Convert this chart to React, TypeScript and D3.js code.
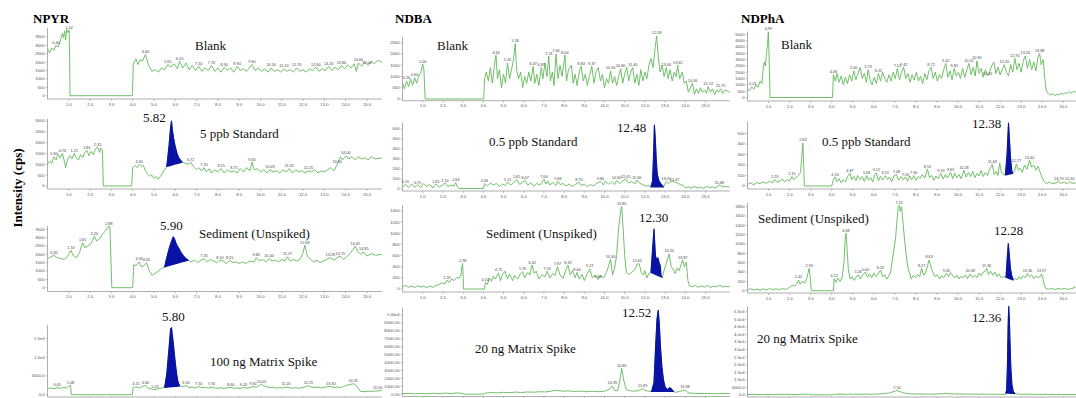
import React from "react";
import * as d3 from "d3";

type Pt = [number, number];

// ---------------- DATA ----------------
const compounds = ["NPYR", "NDBA", "NDPhA"];
const sampleNames = [
  ["Blank", "5 ppb Standard", "Sediment (Unspiked)", "100 ng Matrix Spike"],
  ["Blank", "0.5 ppb Standard", "Sediment (Unspiked)", "20 ng Matrix Spike"],
  ["Blank", "0.5 ppb Standard", "Sediment (Unspiked)", "20 ng Matrix Spike"],
];
const retentionLabels = [
  ["", "5.82", "5.90", "5.80"],
  ["", "12.48", "12.30", "12.52"],
  ["", "12.38", "12.28", "12.36"],
];
const yAxisTitle = "Intensity (cps)";
const xTickValues = [1, 2, 3, 4, 5, 6, 7, 8, 9, 10, 11, 12, 13, 14, 15];

// y ticks per panel [compound][row]
const yTickValues = [
  [
    [0, 500, 1000, 1500, 2000, 2500, 3000, 3500],
    [0, 500, 1000, 1500, 2000, 2500, 3000],
    [0, 500, 1000, 1500, 2000, 2500, 3000, 3500],
    [0, 5000, 10000, 15000],
  ],
  [
    [0, 500, 1000, 1500, 2000, 2500],
    [0, 100, 200, 300, 400, 500, 600],
    [0, 200, 400, 600, 800, 1000, 1200, 1400],
    [0, 1000, 2000, 3000, 4000, 5000, 6000, 7000, 8000, 9000, 10000],
  ],
  [
    [0, 500, 1000, 1500, 2000, 2500, 3000, 3500, 4000, 4500, 5000],
    [0, 100, 200, 300, 400, 500],
    [0, 200, 400, 600, 800, 1000, 1200, 1400, 1600, 1800],
    [0, 5000, 10000, 15000, 20000, 25000, 30000, 35000, 40000, 45000, 50000, 55000],
  ],
];
// decimals for scientific style ticks on the spike panels (-1 = plain integers)
const yTickDecimals = [
  [-1, -1, -1, 1],
  [-1, -1, -1, 2],
  [-1, -1, -1, 1],
];

// ---- NPYR traces (time min, intensity cps)
const npyrBlank: Pt[] = [[0,2800],[0.1,2550],[0.2,2850],[0.3,2700],[0.4,3000],[0.5,2900],[0.6,3250],[0.7,3700],[0.75,3450],[0.8,3850],[0.85,3300],[0.9,3950],[0.95,3750],[1.02,3900],[1.06,0],[3.98,0],[4.03,1900],[4.15,2200],[4.25,1850],[4.35,2150],[4.45,2050],[4.6,2450],[4.75,1800],[4.9,1450],[5.05,1550],[5.2,1400],[5.35,1650],[5.5,1550],[5.65,1850],[5.8,1700],[5.95,1900],[6.1,1600],[6.2,2050],[6.35,1650],[6.5,1950],[6.65,1550],[6.8,1800],[6.95,1500],[7.1,1750],[7.25,1450],[7.4,1650],[7.55,1500],[7.7,1800],[7.85,1450],[8.0,1650],[8.15,1400],[8.3,1700],[8.45,1500],[8.6,1650],[8.75,1400],[8.9,1750],[9.05,1500],[9.2,1600],[9.35,1450],[9.5,1700],[9.6,1850],[9.75,1500],[9.9,1650],[10.05,1450],[10.2,1600],[10.35,1400],[10.5,1650],[10.65,1450],[10.8,1550],[10.95,1400],[11.1,1600],[11.25,1450],[11.4,1550],[11.55,1400],[11.7,1650],[11.85,1450],[12.0,1550],[12.15,1400],[12.3,1600],[12.45,1500],[12.6,1700],[12.75,1450],[12.9,1600],[13.05,1500],[13.2,1750],[13.35,1500],[13.5,1700],[13.65,1550],[13.8,1800],[13.95,1600],[14.1,1850],[14.25,1650],[14.4,1900],[14.5,1450],[14.6,1950],[14.75,1750],[14.9,2000],[15.05,1800],[15.2,2050],[15.35,1900],[15.5,2100],[15.7,2000]];
const npyrStd: Pt[] = [[0,1000],[0.1,1150],[0.2,1050],[0.3,1350],[0.4,1200],[0.5,1450],[0.6,1300],[0.7,1500],[0.8,1100],[0.85,850],[0.95,1250],[1.05,1400],[1.15,1250],[1.25,1500],[1.35,1300],[1.45,1200],[1.55,1450],[1.65,1300],[1.75,1550],[1.85,1650],[1.95,1400],[2.05,1600],[2.15,1450],[2.25,1700],[2.35,1800],[2.45,1550],[2.5,1750],[2.58,1650],[2.62,0],[3.95,0],[4.0,850],[4.1,950],[4.2,850],[4.3,1000],[4.4,900],[4.5,950],[4.6,700],[4.7,550],[4.8,450],[4.9,500],[5.0,350],[5.1,450],[5.2,300],[5.3,450],[5.4,600],[5.5,750],[5.6,900],[5.7,1800],[5.78,2700],[5.82,3000],[5.86,2600],[5.92,2200],[6.0,1800],[6.08,1500],[6.16,1300],[6.24,1200],[6.32,1100],[6.45,1050],[6.6,1000],[6.72,1100],[6.85,900],[7.0,750],[7.1,850],[7.25,700],[7.35,850],[7.45,650],[7.6,800],[7.7,600],[7.85,750],[8.0,650],[8.15,800],[8.3,600],[8.45,750],[8.6,650],[8.75,700],[8.9,600],[9.05,800],[9.2,650],[9.35,850],[9.5,700],[9.6,1100],[9.7,750],[9.85,800],[10.0,650],[10.15,750],[10.3,600],[10.45,750],[10.6,650],[10.75,700],[10.9,600],[11.05,750],[11.2,650],[11.35,800],[11.5,600],[11.65,750],[11.8,650],[11.95,700],[12.1,600],[12.25,700],[12.4,650],[12.55,750],[12.7,600],[12.85,700],[13.0,650],[13.15,750],[13.3,850],[13.45,700],[13.6,1000],[13.75,1350],[13.85,1200],[14.0,1400],[14.15,1250],[14.3,1350],[14.45,1200],[14.6,1350],[14.75,1250],[14.9,1300],[15.05,1200],[15.2,1350],[15.4,1250],[15.7,1300]];
const npyrSed: Pt[] = [[0,1750],[0.15,1850],[0.3,1950],[0.45,1800],[0.6,1750],[0.8,1700],[0.95,1900],[1.1,2250],[1.2,1950],[1.35,1800],[1.5,2100],[1.65,2700],[1.75,2400],[1.9,2500],[2.05,2650],[2.2,3100],[2.3,2800],[2.45,2950],[2.6,3250],[2.75,3450],[2.88,3700],[2.93,3650],[3.02,0],[4.0,0],[4.05,1400],[4.15,1300],[4.3,1550],[4.42,1250],[4.55,1350],[4.65,1500],[4.75,1100],[4.9,750],[5.05,850],[5.2,1000],[5.35,1150],[5.5,1250],[5.6,1800],[5.7,2300],[5.8,2700],[5.9,3050],[5.97,2900],[6.05,2600],[6.15,2400],[6.25,2150],[6.35,1950],[6.45,1800],[6.6,1650],[6.75,1550],[6.9,1650],[7.05,1500],[7.2,1650],[7.35,1750],[7.5,1550],[7.65,1700],[7.8,1600],[7.95,1500],[8.1,1650],[8.25,1600],[8.4,1450],[8.55,1650],[8.7,1500],[8.85,1550],[9.0,1450],[9.15,1550],[9.3,1450],[9.5,1600],[9.7,1550],[9.8,1800],[9.95,1600],[10.1,1700],[10.25,1550],[10.4,1750],[10.55,1600],[10.7,1650],[10.85,1550],[11.0,1700],[11.15,1600],[11.27,1850],[11.4,1600],[11.55,1700],[11.7,1600],[11.85,1700],[12.0,2100],[12.08,2550],[12.2,1900],[12.35,1700],[12.5,1550],[12.65,1650],[12.8,1500],[12.95,1600],[13.1,1700],[13.28,1800],[13.45,1650],[13.6,1800],[13.75,1900],[13.9,1700],[14.05,1850],[14.2,2050],[14.35,2300],[14.45,2500],[14.55,2200],[14.7,2000],[14.85,2150],[15.0,1900],[15.2,2050],[15.4,1950],[15.7,2000]];
const npyrSpike: Pt[] = [[0,1650],[0.15,1800],[0.3,1600],[0.45,1850],[0.6,1700],[0.75,1950],[0.9,1800],[1.0,2300],[1.08,2450],[1.12,0],[3.98,0],[4.02,1900],[4.15,2100],[4.3,1800],[4.45,2200],[4.6,2450],[4.75,1700],[4.9,1500],[5.05,1350],[5.2,1600],[5.35,1750],[5.5,1950],[5.6,5500],[5.7,12000],[5.78,17500],[5.82,17800],[5.9,14000],[5.98,9500],[6.05,6000],[6.12,3500],[6.2,2300],[6.35,2100],[6.5,2400],[6.65,1900],[6.8,2050],[6.95,1800],[7.1,2200],[7.25,1850],[7.4,1950],[7.55,1750],[7.7,2050],[7.85,1800],[8.0,1700],[8.15,1850],[8.3,1650],[8.45,1900],[8.6,1950],[8.75,1700],[8.9,1800],[9.05,1600],[9.2,2000],[9.35,1750],[9.5,1900],[9.65,2200],[9.8,2000],[9.95,2500],[10.05,2800],[10.15,2400],[10.3,2100],[10.45,1900],[10.6,2000],[10.75,1750],[10.9,1900],[11.05,1800],[11.2,2050],[11.35,1900],[11.5,1750],[11.65,1850],[11.8,1700],[11.95,1900],[12.1,2100],[12.25,2400],[12.4,2000],[12.55,1900],[12.7,2050],[12.85,1800],[13.0,1950],[13.15,2100],[13.3,2200],[13.45,1950],[13.6,2050],[13.75,1900],[13.9,2200],[14.05,2500],[14.2,2700],[14.35,2900],[14.45,2700],[14.55,2000],[14.7,900],[14.9,800],[15.1,950],[15.3,900],[15.5,1000],[15.7,1100]];

// ---- NDBA traces
const ndbaBlank: Pt[] = [[0,700],[0.1,450],[0.2,800],[0.3,550],[0.4,900],[0.5,600],[0.6,950],[0.7,700],[0.8,1000],[0.9,1150],[1.0,1550],[1.06,1300],[1.12,0],[4.02,0],[4.06,900],[4.15,1200],[4.25,800],[4.35,1400],[4.45,700],[4.55,1500],[4.63,1950],[4.7,900],[4.8,1300],[4.9,500],[5.0,1100],[5.1,700],[5.2,1600],[5.3,900],[5.42,1400],[5.5,1800],[5.58,2450],[5.65,1300],[5.75,900],[5.85,1200],[5.95,500],[6.05,1000],[6.15,700],[6.25,1200],[6.35,800],[6.47,1450],[6.55,700],[6.65,1100],[6.75,600],[6.87,1400],[6.95,900],[7.05,1600],[7.15,1000],[7.24,1900],[7.32,800],[7.42,1200],[7.5,600],[7.6,2000],[7.7,900],[7.8,1500],[7.9,1000],[8.04,1950],[8.12,800],[8.22,1300],[8.36,1500],[8.45,700],[8.55,1100],[8.65,600],[8.75,1200],[8.84,1450],[8.95,800],[9.05,1100],[9.15,600],[9.25,1000],[9.37,1450],[9.48,700],[9.58,1200],[9.69,1400],[9.8,800],[9.9,1100],[10.0,500],[10.1,900],[10.2,700],[10.3,1250],[10.4,700],[10.5,1000],[10.6,600],[10.7,1000],[10.8,1350],[10.9,700],[11.0,1100],[11.1,1400],[11.2,800],[11.3,1200],[11.4,1400],[11.5,700],[11.6,1100],[11.7,600],[11.8,1300],[11.9,800],[12.0,1200],[12.1,900],[12.2,1500],[12.3,1800],[12.4,1400],[12.5,2200],[12.58,2800],[12.66,1900],[12.75,1200],[12.85,1500],[12.95,1000],[13.06,1400],[13.15,900],[13.25,1300],[13.35,800],[13.45,1200],[13.55,1000],[13.62,1500],[13.72,900],[13.85,1200],[13.95,700],[14.05,800],[14.15,300],[14.25,500],[14.36,700],[14.45,200],[14.55,450],[14.65,250],[14.75,500],[14.85,300],[14.95,400],[15.05,250],[15.13,550],[15.25,300],[15.35,450],[15.45,200],[15.55,400],[15.65,300],[15.75,450],[15.85,250],[15.95,400],[16.1,350],[16.2,300]];
const ndbaStd: Pt[] = [[0,20],[0.15,45],[0.3,15],[0.45,50],[0.6,20],[0.75,40],[0.9,15],[1.05,55],[1.2,25],[1.35,45],[1.5,10],[1.65,50],[1.8,20],[1.95,35],[2.1,60],[2.25,25],[2.4,40],[2.55,30],[2.64,65],[2.72,20],[2.8,5],[4.0,5],[4.06,55],[4.2,30],[4.35,60],[4.5,40],[4.65,55],[4.8,25],[4.95,50],[5.1,35],[5.21,70],[5.35,40],[5.5,60],[5.65,95],[5.8,45],[5.95,70],[6.07,85],[6.2,40],[6.35,60],[6.5,30],[6.65,55],[6.8,40],[6.92,70],[7.0,100],[7.1,50],[7.19,80],[7.3,40],[7.45,65],[7.6,35],[7.68,80],[7.8,45],[7.95,55],[8.1,30],[8.25,50],[8.4,25],[8.55,45],[8.73,70],[8.85,35],[9.0,50],[9.15,25],[9.3,45],[9.45,30],[9.6,55],[9.8,75],[9.95,40],[10.04,80],[10.2,50],[10.35,70],[10.5,45],[10.6,85],[10.75,55],[10.9,80],[11.05,100],[11.2,60],[11.35,75],[11.5,50],[11.6,90],[11.75,55],[11.9,45],[12.05,30],[12.2,35],[12.3,20],[12.38,80],[12.43,350],[12.47,640],[12.51,520],[12.56,300],[12.61,150],[12.68,90],[12.76,60],[12.84,40],[12.92,20],[13.05,75],[13.15,55],[13.3,80],[13.47,70],[13.6,60],[13.75,45],[13.9,35],[14.0,15],[14.15,20],[14.3,10],[14.45,25],[14.6,10],[14.75,20],[14.9,5],[15.05,25],[15.2,15],[15.35,20],[15.5,10],[15.68,40],[15.85,20],[16.0,25],[16.2,20]];
const ndbaSed: Pt[] = [[0,40],[0.15,65],[0.3,30],[0.45,55],[0.6,25],[0.75,60],[0.9,35],[1.05,50],[1.2,20],[1.35,55],[1.5,30],[1.65,60],[1.8,80],[1.95,110],[2.1,90],[2.2,160],[2.3,120],[2.45,180],[2.55,150],[2.7,210],[2.8,190],[2.9,260],[2.94,420],[2.98,460],[3.02,0],[4.06,0],[4.1,120],[4.2,80],[4.3,200],[4.4,140],[4.5,230],[4.6,180],[4.75,290],[4.85,150],[4.95,260],[5.08,320],[5.2,180],[5.3,270],[5.45,150],[5.55,240],[5.7,180],[5.85,280],[5.95,310],[6.05,200],[6.2,300],[6.3,250],[6.42,430],[6.52,280],[6.62,320],[6.75,180],[6.9,260],[7.05,220],[7.16,320],[7.3,200],[7.45,280],[7.55,240],[7.67,400],[7.8,250],[7.95,190],[8.05,300],[8.19,430],[8.3,260],[8.42,330],[8.55,200],[8.64,300],[8.75,180],[8.9,260],[9.0,150],[9.15,280],[9.27,360],[9.4,200],[9.55,250],[9.68,170],[9.8,240],[9.95,200],[10.1,300],[10.3,530],[10.4,250],[10.5,380],[10.6,600],[10.7,1100],[10.8,1400],[10.85,1480],[10.92,1100],[11.0,600],[11.08,300],[11.2,260],[11.35,300],[11.5,350],[11.62,450],[11.72,450],[11.82,300],[11.92,250],[12.0,330],[12.1,200],[12.2,280],[12.3,295],[12.45,1075],[12.52,600],[12.58,520],[12.64,560],[12.7,480],[12.76,420],[12.8,230],[12.86,210],[12.95,330],[13.05,450],[13.2,630],[13.3,400],[13.4,350],[13.5,280],[13.6,380],[13.7,330],[13.8,450],[13.87,520],[13.95,400],[14.05,480],[14.13,150],[14.2,60],[14.35,40],[14.5,65],[14.65,30],[14.8,55],[14.95,35],[15.1,60],[15.25,30],[15.4,50],[15.55,40],[15.7,70],[15.85,35],[16.0,50],[16.2,40]];
const ndbaSpike: Pt[] = [[0,80],[0.3,120],[0.6,60],[0.9,110],[1.2,70],[1.5,130],[1.8,90],[2.1,150],[2.4,100],[2.7,170],[2.95,120],[3.05,20],[4.0,20],[4.1,150],[4.4,220],[4.7,180],[5.0,250],[5.3,200],[5.6,280],[5.9,230],[6.2,300],[6.5,260],[6.8,330],[7.1,300],[7.4,420],[7.6,500],[7.8,450],[8.0,380],[8.2,430],[8.5,350],[8.8,400],[9.1,320],[9.4,380],[9.7,330],[10.0,400],[10.25,650],[10.39,1050],[10.5,500],[10.65,450],[10.75,1600],[10.85,3300],[10.95,1800],[11.08,600],[11.25,450],[11.45,400],[11.65,450],[11.8,600],[11.89,700],[12.0,500],[12.15,400],[12.33,350],[12.45,1500],[12.53,6000],[12.6,9500],[12.66,10600],[12.71,9000],[12.77,6000],[12.84,3500],[12.92,1800],[13.0,900],[13.1,600],[13.18,700],[13.24,850],[13.32,650],[13.42,350],[13.5,250],[13.7,350],[13.85,450],[13.98,550],[14.08,300],[14.2,150],[14.5,120],[14.8,90],[15.1,120],[15.4,80],[15.7,110],[16.0,90],[16.2,100]];

// ---- NDPhA traces
const ndphaBlank: Pt[] = [[0,700],[0.1,550],[0.2,850],[0.3,650],[0.4,1000],[0.5,800],[0.6,1300],[0.68,1100],[0.75,2300],[0.8,2800],[0.85,2500],[0.9,3400],[0.95,4200],[0.99,5200],[1.03,3000],[1.07,0],[4.04,0],[4.08,1800],[4.18,1300],[4.25,1900],[4.35,1200],[4.45,1700],[4.55,1000],[4.65,1600],[4.75,1100],[4.85,1800],[4.95,1300],[5.05,2100],[5.15,1400],[5.25,1900],[5.35,2400],[5.45,1500],[5.55,1900],[5.65,1200],[5.73,2200],[5.82,1400],[5.92,1000],[6.02,1600],[6.12,1100],[6.22,1900],[6.32,1300],[6.42,2000],[6.52,1500],[6.62,1200],[6.72,1800],[6.82,1300],[6.92,2000],[7.02,1500],[7.12,2300],[7.22,1400],[7.32,2000],[7.42,2400],[7.52,1500],[7.62,1900],[7.72,1200],[7.82,1800],[7.92,1400],[8.02,2000],[8.12,1300],[8.22,1700],[8.32,1100],[8.42,1900],[8.52,1400],[8.62,2100],[8.72,2400],[8.82,1500],[8.92,2000],[9.02,1300],[9.12,1800],[9.22,1500],[9.32,2200],[9.42,2700],[9.52,1600],[9.62,2100],[9.72,1400],[9.82,2300],[9.92,1700],[10.02,2000],[10.12,1500],[10.22,2300],[10.32,1600],[10.42,2200],[10.52,2700],[10.62,1800],[10.72,2400],[10.82,1700],[10.9,2900],[11.0,1900],[11.1,2300],[11.2,1600],[11.3,2200],[11.4,1700],[11.5,2000],[11.6,2500],[11.7,2800],[11.8,1900],[11.9,2400],[12.0,1800],[12.1,2200],[12.2,2600],[12.3,2000],[12.4,1700],[12.5,2600],[12.6,2000],[12.7,3100],[12.8,2200],[12.9,2700],[13.0,2000],[13.1,2900],[13.2,3300],[13.3,2300],[13.4,3000],[13.5,2200],[13.6,2800],[13.7,2100],[13.8,3200],[13.88,3500],[13.95,2600],[14.05,3000],[14.12,1500],[14.2,500],[14.3,300],[14.4,200],[14.5,300],[14.6,150],[14.7,250],[14.8,200],[14.9,350],[15.0,250],[15.1,400],[15.2,300],[15.3,450],[15.4,350],[15.5,500],[15.6,400]];
const ndphaStd: Pt[] = [[0,15],[0.15,30],[0.3,10],[0.45,35],[0.6,20],[0.75,40],[0.9,25],[1.05,45],[1.2,30],[1.29,60],[1.4,35],[1.55,50],[1.65,65],[1.75,40],[1.9,60],[2.0,45],[2.11,90],[2.2,60],[2.3,80],[2.42,100],[2.52,130],[2.58,280],[2.63,410],[2.66,250],[2.7,0],[4.0,0],[4.08,60],[4.16,85],[4.25,40],[4.35,70],[4.45,30],[4.55,60],[4.65,40],[4.75,90],[4.87,120],[4.95,60],[5.05,90],[5.15,50],[5.23,100],[5.35,60],[5.45,90],[5.55,45],[5.66,100],[5.75,55],[5.85,80],[5.95,40],[6.05,110],[6.12,125],[6.22,50],[6.32,90],[6.42,55],[6.55,100],[6.65,60],[6.75,85],[6.85,40],[6.95,95],[7.08,110],[7.18,55],[7.3,90],[7.4,60],[7.5,85],[7.6,45],[7.7,95],[7.8,60],[7.9,100],[8.0,55],[8.1,90],[8.2,70],[8.3,110],[8.42,75],[8.55,160],[8.65,80],[8.75,100],[8.85,55],[8.95,95],[9.05,70],[9.19,120],[9.3,65],[9.4,110],[9.5,75],[9.65,130],[9.75,70],[9.85,120],[9.95,80],[10.05,110],[10.15,70],[10.28,150],[10.38,85],[10.5,130],[10.6,90],[10.7,140],[10.8,80],[10.9,120],[11.0,95],[11.1,150],[11.2,90],[11.3,130],[11.4,100],[11.5,160],[11.63,205],[11.72,110],[11.82,140],[11.9,100],[11.98,220],[12.06,130],[12.15,110],[12.25,105],[12.33,300],[12.4,600],[12.45,420],[12.5,250],[12.56,140],[12.6,120],[12.68,140],[12.77,210],[12.86,150],[12.95,170],[13.05,130],[13.16,200],[13.28,160],[13.4,245],[13.5,180],[13.6,200],[13.7,150],[13.8,190],[13.9,130],[14.0,80],[14.1,40],[14.2,25],[14.35,35],[14.5,20],[14.65,30],[14.79,45],[14.9,25],[15.05,35],[15.2,20],[15.3,40],[15.45,25],[15.6,30]];
const ndphaSed: Pt[] = [[0,20],[0.15,40],[0.3,15],[0.45,35],[0.6,10],[0.75,40],[0.9,20],[1.05,45],[1.2,25],[1.35,40],[1.5,20],[1.65,45],[1.8,30],[1.95,60],[2.05,90],[2.15,120],[2.25,100],[2.35,150],[2.42,230],[2.5,140],[2.6,200],[2.7,160],[2.8,240],[2.88,380],[2.93,480],[2.98,300],[3.03,0],[4.08,0],[4.12,260],[4.2,180],[4.3,270],[4.4,200],[4.5,290],[4.58,600],[4.64,1100],[4.68,1230],[4.73,900],[4.79,450],[4.88,250],[4.97,300],[5.07,220],[5.17,300],[5.26,340],[5.36,250],[5.46,330],[5.6,400],[5.7,290],[5.8,360],[5.9,280],[6.0,380],[6.1,300],[6.2,360],[6.32,440],[6.42,300],[6.52,340],[6.62,250],[6.72,320],[6.8,400],[6.88,650],[6.96,900],[7.04,1150],[7.1,1500],[7.16,1780],[7.21,1830],[7.26,1700],[7.32,1800],[7.38,1500],[7.45,1150],[7.52,850],[7.6,550],[7.68,400],[7.78,250],[7.88,330],[7.98,280],[8.08,350],[8.18,300],[8.27,480],[8.37,330],[8.47,400],[8.56,550],[8.63,660],[8.72,500],[8.82,380],[8.92,300],[9.02,340],[9.12,250],[9.22,320],[9.32,280],[9.45,370],[9.55,300],[9.65,390],[9.75,320],[9.85,270],[9.95,330],[10.05,250],[10.15,310],[10.25,280],[10.35,340],[10.45,260],[10.58,360],[10.7,280],[10.8,330],[10.9,280],[11.0,380],[11.1,320],[11.2,400],[11.3,420],[11.36,480],[11.45,350],[11.55,420],[11.65,330],[11.75,400],[11.85,300],[11.95,360],[12.05,280],[12.15,300],[12.22,300],[12.28,285],[12.34,700],[12.39,1010],[12.44,750],[12.49,480],[12.55,330],[12.62,230],[12.7,260],[12.8,230],[12.9,300],[13.0,250],[13.1,320],[13.2,280],[13.3,370],[13.4,300],[13.5,340],[13.6,260],[13.7,320],[13.8,280],[13.9,300],[13.97,360],[14.04,250],[14.1,120],[14.17,50],[14.3,30],[14.45,50],[14.6,25],[14.75,45],[14.9,30],[15.05,50],[15.2,30],[15.35,45],[15.45,40],[15.52,90],[15.6,50]];
const ndphaSpike: Pt[] = [[0,300],[0.3,450],[0.6,250],[0.9,400],[1.2,300],[1.5,500],[1.8,350],[2.1,450],[2.4,300],[2.7,500],[2.95,400],[3.05,100],[4.0,100],[4.1,400],[4.4,550],[4.7,400],[5.0,600],[5.3,450],[5.6,650],[5.9,500],[6.2,700],[6.5,900],[6.75,1400],[6.95,2300],[7.1,2900],[7.25,2200],[7.45,1300],[7.7,800],[8.0,600],[8.3,700],[8.6,550],[8.9,650],[9.2,800],[9.45,1100],[9.6,800],[9.9,600],[10.2,700],[10.5,550],[10.8,650],[11.1,500],[11.4,600],[11.7,450],[12.0,500],[12.25,450],[12.31,3000],[12.35,20000],[12.38,45000],[12.41,58500],[12.44,50000],[12.47,35000],[12.51,18000],[12.56,7000],[12.62,2500],[12.7,900],[12.85,600],[13.1,450],[13.4,550],[13.7,400],[14.0,450],[14.3,350],[14.6,400],[14.9,300],[15.2,350],[15.6,300]];

// integrated (blue) peak windows [start, end] in minutes
const peakWindows: (Pt | null)[][] = [
  [null, [5.6, 6.32], [5.5, 6.6], [5.5, 6.2]],
  [null, [12.3, 12.92], [12.3, 12.86], [12.33, 13.42]],
  [null, [12.25, 12.6], [12.28, 12.62], [12.27, 12.7]],
];

// apex labels printed by the instrument software (retention times)
const apexTimes: number[][][] = [
  [
    [0.4, 1.02, 4.6, 5.65, 6.2, 7.1, 7.7, 8.3, 8.9, 9.6, 10.5, 11.1, 11.7, 12.6, 13.2, 13.8, 14.6, 15.0],
    [0.3, 0.7, 1.25, 1.85, 2.35, 4.3, 6.72, 7.35, 8.15, 8.75, 9.6, 10.45, 11.35, 12.25, 13.6, 14.0],
    [0.3, 1.1, 1.65, 2.2, 2.88, 4.3, 4.65, 7.35, 8.1, 8.55, 9.8, 10.4, 11.27, 12.08, 13.28, 13.75, 14.45, 14.85],
    [0.45, 1.08, 4.15, 4.6, 5.05, 6.5, 7.1, 7.7, 8.6, 9.2, 9.65, 10.05, 11.2, 12.25, 13.3, 14.35, 15.5],
  ],
  [
    [0.2, 0.6, 1.0, 4.63, 5.2, 5.58, 6.47, 6.87, 7.24, 7.6, 8.04, 8.84, 9.37, 10.3, 10.8, 11.4, 12.58, 13.06, 13.62, 14.36, 15.13, 15.75],
    [0.15, 0.75, 1.65, 2.1, 2.64, 4.06, 5.21, 5.65, 6.07, 7.0, 7.68, 8.73, 9.8, 10.6, 11.05, 11.6, 13.05, 13.47, 15.68],
    [2.2, 2.98, 4.1, 4.75, 5.95, 6.42, 7.16, 7.67, 8.19, 8.64, 9.27, 9.68, 10.3, 10.85, 11.62, 13.2, 13.87],
    [10.39, 10.85, 11.89, 13.98],
  ],
  [
    [0.25, 0.99, 4.08, 5.05, 5.73, 6.22, 7.12, 7.42, 8.72, 9.42, 9.82, 10.52, 10.9, 11.4, 12.2, 12.7, 13.2, 13.88],
    [1.29, 2.11, 2.63, 4.16, 4.87, 5.66, 6.12, 6.55, 7.08, 7.5, 7.9, 8.55, 9.19, 9.65, 10.28, 11.63, 12.77, 13.4, 14.79, 15.3],
    [2.42, 2.93, 4.12, 4.68, 5.26, 5.6, 6.32, 7.21, 8.27, 8.63, 9.45, 10.58, 11.36, 13.3, 13.97],
    [7.1],
  ],
];

const traces: Pt[][][] = [
  [npyrBlank, npyrStd, npyrSed, npyrSpike],
  [ndbaBlank, ndbaStd, ndbaSed, ndbaSpike],
  [ndphaBlank, ndphaStd, ndphaSed, ndphaSpike],
];

// ---------------- LAYOUT ----------------
const W = 1076;
const H = 398;
const SERIF = "'Liberation Serif', 'Times New Roman', serif";
const GREEN = "#62b85a";
const BLUE = "#0a12a6";
const AXIS = "#9a9a9a";
const TICKTXT = "#555";

const columns = [
  { x0: 47.5, ppm: 21.3, tMax: 15.7, title: [33, 23.3] },
  { x0: 402.5, ppm: 20.2, tMax: 16.2, title: [395, 22.7] },
  { x0: 747.5, ppm: 21.05, tMax: 15.6, title: [741, 23.3] },
];

// per panel: zero y, reference value and its y, top of y axis, x axis y
const rowsLayout = [
  [
    { zeroY: 95.7, refV: 3500, refY: 36.9, top: 28, axisY: 99 },
    { zeroY: 186, refV: 3000, refY: 121, top: 119, axisY: 189 },
    { zeroY: 287.7, refV: 3500, refY: 229.4, top: 226, axisY: 291.5 },
    { zeroY: 394.7, refV: 15000, refY: 338.3, top: 325, axisY: 397 },
  ],
  [
    { zeroY: 99, refV: 2500, refY: 42.7, top: 36.5, axisY: 100.7 },
    { zeroY: 189, refV: 600, refY: 129, top: 123, axisY: 191 },
    { zeroY: 289, refV: 1400, refY: 211, top: 205, axisY: 292 },
    { zeroY: 394.3, refV: 10000, refY: 315, top: 308, axisY: 396.5 },
  ],
  [
    { zeroY: 97.5, refV: 5000, refY: 34.3, top: 31.5, axisY: 101 },
    { zeroY: 186, refV: 500, refY: 133.5, top: 121.5, axisY: 189 },
    { zeroY: 290.7, refV: 1800, refY: 206.7, top: 203, axisY: 293 },
    { zeroY: 395, refV: 55000, refY: 311.7, top: 306.5, axisY: 397 },
  ],
];

// text positions: [x, baselineY]
const sampleTextPos = [
  [[195, 50], [200, 138], [199, 238], [210, 365.7]],
  [[437, 50], [489, 145.7], [486, 238.3], [475, 353]],
  [[781, 49], [822, 145.7], [758, 223.3], [757, 342.7]],
];
const rtTextPos = [
  [null, [143, 122], [160, 230], [162, 320.7]],
  [null, [617, 131.7], [639, 221.7], [622, 316.7]],
  [null, [972, 128.3], [994, 235], [972, 321.7]],
];

function interp(data: Pt[], t: number): number {
  for (let i = 1; i < data.length; i++) {
    if (data[i][0] >= t) {
      const [t0, v0] = data[i - 1];
      const [t1, v1] = data[i];
      return t1 === t0 ? v1 : v0 + ((v1 - v0) * (t - t0)) / (t1 - t0);
    }
  }
  return data[data.length - 1][1];
}

function fmtTick(v: number, dec: number): string {
  if (dec < 0) return String(v);
  if (v >= 10000) return (v / 10000).toFixed(dec) + "e4";
  return v.toFixed(dec);
}

function Panel({ c, r }: { c: number; r: number }) {
  const col = columns[c];
  const L = rowsLayout[c][r];
  const data = traces[c][r];
  const x = d3.scaleLinear().domain([0, col.tMax]).range([col.x0, col.x0 + col.tMax * col.ppm]);
  const y = d3.scaleLinear().domain([0, L.refV]).range([L.zeroY, L.refY]);
  const line = d3.line<Pt>().x((d) => x(d[0])).y((d) => y(d[1]));
  const win = peakWindows[c][r];
  let fillPath: string | null = null;
  if (win) {
    const [f0, f1] = win;
    const a = interp(data, f0);
    const b = interp(data, f1);
    const pts: Pt[] = [[f0, a], ...data.filter((d) => d[0] > f0 && d[0] < f1), [f1, b]];
    const area = d3
      .area<Pt>()
      .x((d) => x(d[0]))
      .y1((d) => y(d[1]))
      .y0((d) => y(a + ((b - a) * (d[0] - f0)) / (f1 - f0)));
    fillPath = area(pts);
  }
  const x1 = col.x0 + col.tMax * col.ppm;
  const dec = yTickDecimals[c][r];
  const showXLabels = L.axisY + 6.5 < H - 1;
  return (
    <g>
      {/* axes */}
      <line x1={col.x0} x2={col.x0} y1={L.top} y2={L.axisY} stroke={AXIS} strokeWidth={0.8} />
      <line x1={col.x0} x2={Math.min(x1, W)} y1={L.axisY} y2={L.axisY} stroke={AXIS} strokeWidth={0.8} />
      {yTickValues[c][r].map((v) => (
        <g key={"y" + v}>
          <line x1={col.x0 - 2} x2={col.x0} y1={y(v)} y2={y(v)} stroke={AXIS} strokeWidth={0.6} />
          <text x={col.x0 - 3} y={y(v) + 1.4} fontSize={4.2} fill={TICKTXT} textAnchor="end" fontFamily="Arial, sans-serif">
            {fmtTick(v, dec)}
          </text>
        </g>
      ))}
      {xTickValues.map((t) => (
        <g key={"x" + t}>
          <line x1={x(t)} x2={x(t)} y1={L.axisY} y2={L.axisY + 2} stroke={AXIS} strokeWidth={0.6} />
          {showXLabels && (
            <text x={x(t)} y={L.axisY + 6.5} fontSize={4.2} fill={TICKTXT} textAnchor="middle" fontFamily="Arial, sans-serif">
              {t.toFixed(1)}
            </text>
          )}
        </g>
      ))}
      {/* trace */}
      <path d={line(data) || ""} fill="none" stroke={GREEN} strokeWidth={0.9} strokeLinejoin="round" />
      {/* blue integrated peak, drawn over the trace */}
      {fillPath && <path d={fillPath} fill={BLUE} stroke={BLUE} strokeWidth={1.1} strokeLinejoin="round" />}
      {/* apex labels */}
      {apexTimes[c][r].map((t, i) => {
        const near = data.filter((d) => Math.abs(d[0] - t) <= 0.09).map((d) => d[1]);
        const v = near.length ? Math.max(...near) : interp(data, t);
        return (
          <text key={"a" + i} x={x(t)} y={y(v) - 1.5} fontSize={3.8} fill="#444" textAnchor="middle" fontFamily="Arial, sans-serif">
            {t.toFixed(2)}
          </text>
        );
      })}
      {/* sample annotation */}
      <text x={sampleTextPos[c][r][0]} y={sampleTextPos[c][r][1]} fontSize={13} fontFamily={SERIF} fill="#111">
        {sampleNames[c][r]}
      </text>
      {rtTextPos[c][r] && (
        <text x={rtTextPos[c][r]![0]} y={rtTextPos[c][r]![1]} fontSize={13} fontFamily={SERIF} fill="#111">
          {retentionLabels[c][r]}
        </text>
      )}
    </g>
  );
}

export default function App() {
  return (
    <svg width={W} height={H} viewBox={`0 0 ${W} ${H}`} style={{ position: "absolute", left: 0, top: 0, background: "#fff" }}>
      <rect x={0} y={0} width={W} height={H} fill="#fff" />
      {columns.map((col, c) => (
        <g key={c}>
          <text x={col.title[0]} y={col.title[1]} fontSize={13} fontWeight="bold" fontFamily={SERIF} fill="#000">
            {compounds[c]}
          </text>
          {[0, 1, 2, 3].map((r) => (
            <Panel key={r} c={c} r={r} />
          ))}
        </g>
      ))}
      <text
        transform="translate(22,188) rotate(-90)"
        textAnchor="middle"
        fontSize={13}
        fontWeight="bold"
        fontFamily={SERIF}
        fill="#000"
      >
        {yAxisTitle}
      </text>
    </svg>
  );
}
